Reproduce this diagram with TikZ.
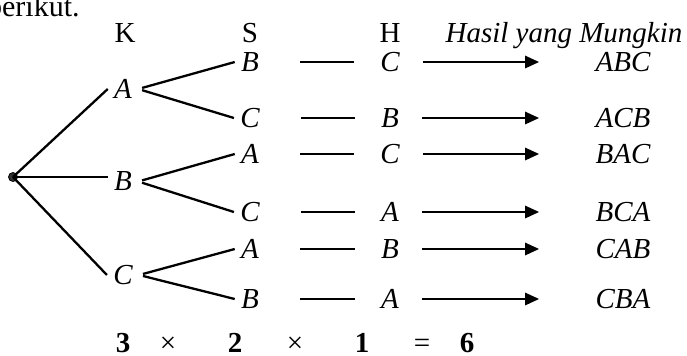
\documentclass[tikz,border=0pt]{standalone}
\usepackage{fontspec}
\setmainfont{Liberation Serif}
\usetikzlibrary{arrows.meta}

\begin{document}
\begin{tikzpicture}[
    x=0.5pt, y=-0.5pt,
    every node/.style={
            font=\fontsize{14.5}{17}\selectfont,
            inner sep=3pt
        },
    letter/.style={font=\fontsize{14.5}{17}\selectfont\itshape},
    header/.style={anchor=base},
    count/.style={anchor=base, inner sep=0pt, font=\fontsize{14.5}{17}\selectfont\bfseries},
    operator/.style={anchor=base, inner sep=0pt},
    branch/.style={line width=1.15pt},
    split/.style={line width=1.15pt, shorten <=2pt},
    dash_line/.style={line width=1.3pt, shorten <=17.5pt, shorten >=10pt},
    arrow/.style={
            line width=1.3pt,
            -{Triangle[length=7pt, width=6pt]},
            shorten <=8.5pt,
            shorten >=25pt
        },
    root_dot/.style={
            circle,
            draw,
            fill=black!80,
            inner sep=0pt,
            minimum size=4.5pt
        }
    ]

    \useasboundingbox (0,0) rectangle (687,355);

    % --- Text above ---
    \node[anchor=base east, inner sep=0pt, font=\fontsize{15}{18}\selectfont] (intro) at (80,16) {berikut.};

    % --- Headers ---
    \node[header] (head_k) at (125,42) {K};
    \node[header] (head_s) at (250,42) {S};
    \node[header] (head_h) at (390,42) {H};
    \node[header, letter] (head_result) at (564,42) {Hasil yang Mungkin};

    % --- First choice ---
    \node[root_dot] (root) at (13,177) {};
    \node[letter] (k_a) at (123,89) {A};
    \node[letter] (k_b) at (123,181.5) {B};
    \node[letter] (k_c) at (123,275) {C};

    % --- Second choice ---
    \node[letter] (s_ab) at (250,62) {B};
    \node[letter] (s_ac) at (250,118) {C};
    \node[letter] (s_ba) at (250,154) {A};
    \node[letter] (s_bc) at (250,212) {C};
    \node[letter] (s_ca) at (250,249) {A};
    \node[letter] (s_cb) at (250,299) {B};

    % --- Third choice ---
    \node[letter] (h_abc) at (390,62) {C};
    \node[letter] (h_acb) at (390,118) {B};
    \node[letter] (h_bac) at (390,154) {C};
    \node[letter] (h_bca) at (390,212) {A};
    \node[letter] (h_cab) at (390,249) {B};
    \node[letter] (h_cba) at (390,299) {A};

    % --- Outcomes ---
    \node[letter] (r_abc) at (623,62) {ABC};
    \node[letter] (r_acb) at (623,118) {ACB};
    \node[letter] (r_bac) at (623,154) {BAC};
    \node[letter] (r_bca) at (623,212) {BCA};
    \node[letter] (r_cab) at (623,249) {CAB};
    \node[letter] (r_cba) at (623,299) {CBA};

    % --- Count ---
    \node[count] (n_k) at (123,352) {3};
    \node[operator] (times_1) at (168,352) {×};
    \node[count] (n_s) at (235,352) {2};
    \node[operator] (times_2) at (295,352) {×};
    \node[count] (n_h) at (362,352) {1};
    \node[operator] (equals) at (422,352) {=};
    \node[count] (total) at (467,352) {6};

    % --- Branches ---
    \draw[branch] (root.center) -- (k_a.west);
    \draw[branch] (root.center) -- (root.center -| k_b.west);
    \draw[branch] (root.center) -- (k_c.west);

    \draw[split] (k_a.east) -- (s_ab.west);
    \draw[split] (k_a.east) -- (s_ac.west);
    \draw[split] (k_b.east) -- (s_ba.west);
    \draw[split] (k_b.east) -- (s_bc.west);
    \draw[split] (k_c.east) -- (s_ca.west);
    \draw[split] (k_c.east) -- (s_cb.west);

    % --- Dashes ---
    \draw[dash_line] (s_ab.east) -- (h_abc.west);
    \draw[dash_line] (s_ac.east) -- (h_acb.west);
    \draw[dash_line] (s_ba.east) -- (h_bac.west);
    \draw[dash_line] (s_bc.east) -- (h_bca.west);
    \draw[dash_line] (s_ca.east) -- (h_cab.west);
    \draw[dash_line] (s_cb.east) -- (h_cba.west);

    % --- Arrows ---
    \draw[arrow] (h_abc.east) -- (r_abc.west);
    \draw[arrow] (h_acb.east) -- (r_acb.west);
    \draw[arrow] (h_bac.east) -- (r_bac.west);
    \draw[arrow] (h_bca.east) -- (r_bca.west);
    \draw[arrow] (h_cab.east) -- (r_cab.west);
    \draw[arrow] (h_cba.east) -- (r_cba.west);

\end{tikzpicture}
\end{document}
